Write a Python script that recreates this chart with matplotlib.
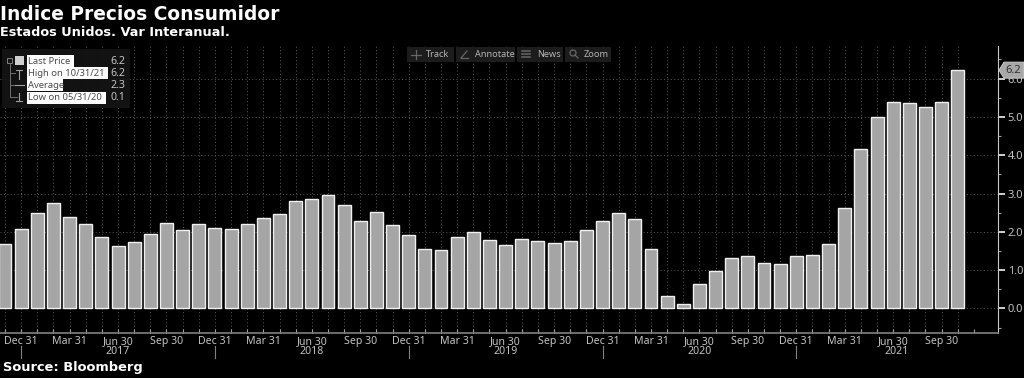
import matplotlib
matplotlib.use("Agg")
import matplotlib.pyplot as plt
from matplotlib.patches import Polygon, Rectangle, Circle

# CPI yoy, monthly from Nov 2016 to Oct 2021
values = [1.69, 2.07,
          2.50, 2.74, 2.38, 2.20, 1.87, 1.63, 1.73, 1.94, 2.23, 2.04, 2.20, 2.11,
          2.07, 2.21, 2.36, 2.46, 2.80, 2.87, 2.95, 2.70, 2.28, 2.52, 2.18, 1.91,
          1.55, 1.52, 1.86, 2.00, 1.79, 1.65, 1.81, 1.75, 1.71, 1.76, 2.05, 2.29,
          2.49, 2.33, 1.54, 0.33, 0.12, 0.65, 0.99, 1.31, 1.37, 1.18, 1.17, 1.36,
          1.40, 1.68, 2.62, 4.16, 4.99, 5.39, 5.37, 5.25, 5.39, 6.22]
month_labels = ["Dec 31", "Mar 31", "Jun 30", "Sep 30"]
years = ["2017", "2018", "2019", "2020", "2021"]
yticks = [0, 1, 2, 3, 4, 5, 6]
legend_names = ["Last Price", "High on 10/31/21", "Average", "Low on 05/31/20"]
legend_values = ["6.2", "6.2", "2.3", "0.1"]
toolbar_items = ["Track", "Annotate", "News", "Zoom"]

W, H = 1024, 378
BG = "black"
TXT = "#c4c4c4"
GRID = "#5c5c5c"
UI = "Noto Sans"
plt.rcParams["font.family"] = ["DejaVu Sans"]

fig = plt.figure(figsize=(W / 100, H / 100), dpi=100, facecolor=BG)

# main axes, placed in pixels
left, right, top, bottom = 0, 998, 46, 333
ax = fig.add_axes([left / W, 1 - bottom / H, (right - left) / W, (bottom - top) / H], facecolor=BG)
xs = list(range(len(values)))
ax.bar(xs, values, width=0.8, color="#a5a5a5", edgecolor="#f0f0f0", linewidth=1.0, zorder=3)
ax.set_xlim(-0.31, 61.49)
ax.set_ylim(-0.64, 6.85)

# month ticks, label every 3rd starting at Dec
ax.set_xticks(list(range(len(values) + 1)))
labels = [""] * (len(values) + 1)
for n, i in enumerate(range(1, len(values) + 1, 3)):
    labels[i] = month_labels[n % 4]
ax.set_xticklabels(labels, fontsize=7.6, color=TXT, family=UI)
ax.tick_params(axis="x", direction="in", length=3, width=0.8, color="#a0a0a0", pad=2)

ax.yaxis.tick_right()
ax.set_yticks(yticks)
ax.set_yticklabels([f"{v:.1f}" for v in yticks], fontsize=8, color=TXT, family=UI)
ax.set_yticks([v + 0.5 for v in yticks] + [-0.5], minor=True)
ax.tick_params(axis="y", which="major", direction="out", length=5, width=1.3, color="#e0e0e0", pad=2)
ax.tick_params(axis="y", which="minor", direction="out", length=2.5, width=0.8, color="#a0a0a0")

ax.grid(True, color=GRID, linewidth=0.7, linestyle=(0, (1, 2.5)), zorder=0)
ax.set_axisbelow(True)
ax.xaxis.get_gridlines()[-1].set_visible(False)

for s in ["left", "top"]:
    ax.spines[s].set_visible(False)
ax.spines["right"].set_color("#c8c8c8")
ax.spines["bottom"].set_color("#808080")
ax.spines["bottom"].set_linewidth(1.2)

# year row
trans = ax.get_xaxis_transform()
year_edges = list(range(1, len(values), 12))
for i in year_edges:
    ax.plot([i, i], [-0.045, -0.087], transform=trans, color="#808080", lw=0.8, clip_on=False)
for n, y in enumerate(years):
    a = year_edges[n]
    b = year_edges[n + 1] if n + 1 < len(year_edges) else ax.get_xlim()[1]
    ax.text((a + b) / 2, -0.066, y, transform=trans, ha="center", va="center", fontsize=7.6, color=TXT, family=UI)

# overlay in pixel coordinates for the terminal chrome
ov = fig.add_axes([0, 0, 1, 1], facecolor="none")
ov.set_xlim(0, W)
ov.set_ylim(H, 0)
ov.axis("off")

ov.text(0, 14, "Indice Precios Consumidor", fontsize=13.4, fontweight="bold", color="white", va="center")
ov.text(0, 33, "Estados Unidos. Var Interanual.", fontsize=9.3, fontweight="bold", color="white", va="center")
ov.text(3, 368, "Source: Bloomberg", fontsize=9.4, fontweight="bold", color="white", va="center")

# legend box
ov.add_patch(Rectangle((2, 49), 128, 59, facecolor="#141414", alpha=0.93, edgecolor="none"))
rows = [61, 73, 85, 98]
box_w = [47, 81, 36, 79]
for y, name, val, bw in zip(rows, legend_names, legend_values, box_w):
    ov.add_patch(Rectangle((27, y - 6), bw, 12, facecolor="white", edgecolor="none"))
    ov.text(27.5, y, name, fontsize=6.8, color="#4a4a4a", va="center", family=UI)
    ov.text(125, y, val, fontsize=7.6, color=TXT, va="center", ha="right", family=UI)
# legend tree and icons
ov.plot([10, 10, 17], [64, 97, 97], color="#707070", lw=0.7)
for y in rows[1:3]:
    ov.plot([10, 15], [y, y], color="#707070", lw=0.7)
ov.add_patch(Rectangle((7, 58), 5, 5, facecolor="#141414", edgecolor="#808080", lw=0.7))
ov.add_patch(Rectangle((15, 56), 9, 9, facecolor="#d0d0d0", edgecolor="none"))
ov.plot([19, 19], [70, 79], color="#a0a0a0", lw=0.8)
ov.plot([16, 22], [70, 70], color="#a0a0a0", lw=0.8)
ov.plot([15, 24], [85, 85], color="#a0a0a0", lw=0.8)
ov.plot([19, 19], [93, 101], color="#a0a0a0", lw=0.8)
ov.plot([16, 22], [101, 101], color="#a0a0a0", lw=0.8)

# toolbar
for x0, x1 in [(407, 454), (456, 515), (517, 563), (565, 611)]:
    ov.add_patch(Rectangle((x0, 47), x1 - x0, 15, facecolor="#1c1c1c", edgecolor="none"))
for x, t in zip([426, 475, 537, 584], toolbar_items):
    ov.text(x, 54.5, t, fontsize=6.6, color="#b4b4b4", va="center", family=UI)
ic = "#666666"
ov.plot([411, 421], [54.5, 54.5], color=ic, lw=0.9)
ov.plot([416, 416], [50, 59], color=ic, lw=0.9)
ov.plot([461, 467], [58, 51], color=ic, lw=0.9)
ov.plot([461, 468], [58, 58], color=ic, lw=0.9)
for y in [51, 54, 57]:
    ov.plot([522, 530], [y, y], color=ic, lw=1.1)
ov.add_patch(Circle((573, 53), 3, facecolor="none", edgecolor=ic, lw=0.9))
ov.plot([575, 578], [55, 58], color=ic, lw=0.9)

# last value tag on the right axis
tag_y = H - ax.transData.transform((0, values[-1]))[1]
ov.add_patch(Polygon([(999, tag_y), (1004, tag_y - 8), (1024, tag_y - 8), (1024, tag_y + 8), (1004, tag_y + 8)],
                     closed=True, facecolor="#a8a8a8", edgecolor="#c8c8c8", lw=0.7))
ov.text(1005, tag_y, f"{values[-1]:.1f}", fontsize=8, color="#303030", va="center", family=UI)

fig.savefig("out.png", dpi=100, facecolor=BG)
